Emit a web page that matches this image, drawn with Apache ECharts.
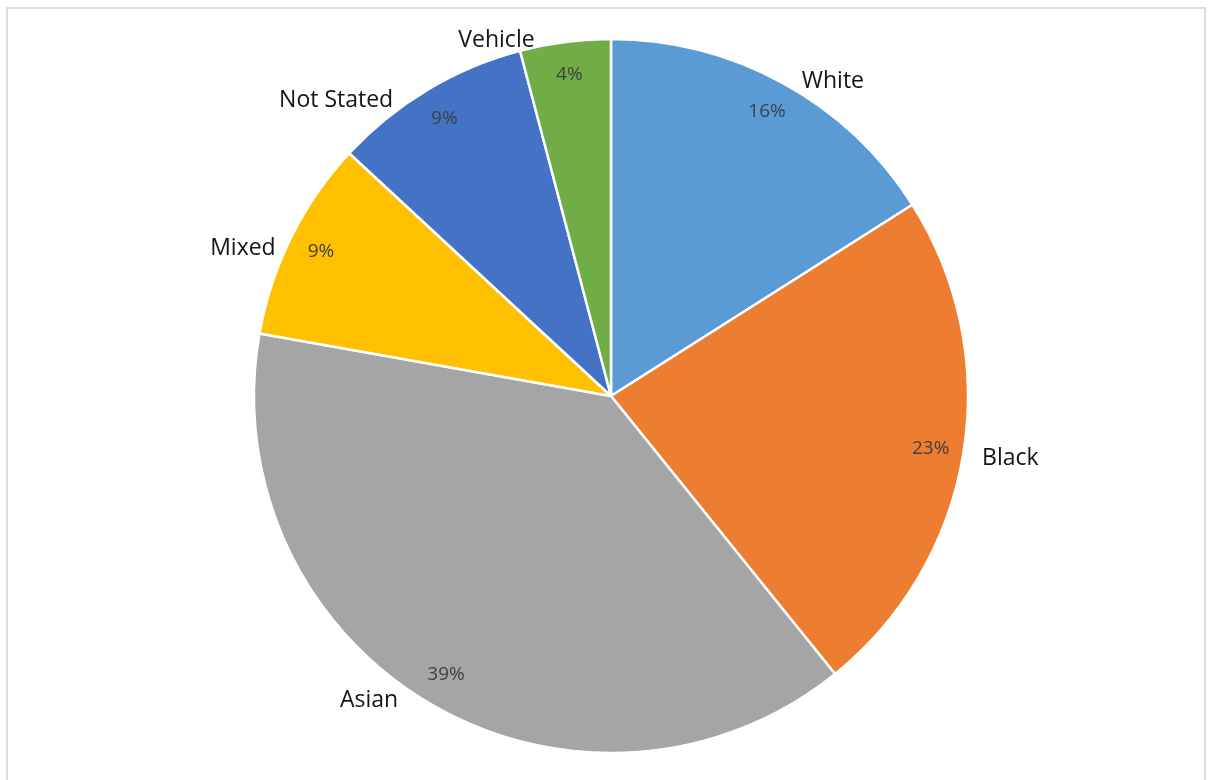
<!DOCTYPE html>
<html>
<head>
<meta charset="utf-8">
<script src="https://cdn.jsdelivr.net/npm/echarts@6/dist/echarts.min.js"></script>
<style>
  html, body { margin: 0; padding: 0; background: #ffffff; }
  #frame {
    position: absolute; left: 6px; top: 7px; width: 1200px; height: 780px;
    border: 2px solid #dcdcdc; box-sizing: border-box; background: #ffffff;
  }
  #chart { position: absolute; left: 0; top: 0; width: 1209px; height: 780px; }
</style>
</head>
<body>
<div id="frame"></div>
<div id="chart"></div>
<script>
// Share of records by ethnicity (percent)
const categories = ['White', 'Black', 'Asian', 'Mixed', 'Not Stated', 'Vehicle'];
const shares = [16.0, 23.2, 38.6, 9.1, 9.0, 4.1];
const colors = ['#5B9BD5', '#ED7D31', '#A5A5A5', '#FFC000', '#4472C4', '#70AD47'];

// small nudges for the outer name labels, keyed by category
const nameNudge = {
  'White': [8, 9],
  'Black': [2, 2],
  'Asian': [-20, -13],
  'Mixed': [0, 17],
  'Not Stated': [-23, 21],
  'Vehicle': [-24, 10]
};

const chart = echarts.init(document.getElementById('chart'), null, { renderer: 'canvas' });

const R = 357;
const center = ['611px', '396px'];

const slices = categories.map((name, i) => ({
  name,
  value: shares[i],
  itemStyle: { color: colors[i] },
  label: { offset: nameNudge[name] || [0, 0] }
}));

chart.setOption({
  animation: false,
  backgroundColor: 'transparent',
  series: [
    {
      // coloured slices with category names outside
      type: 'pie',
      center: center,
      radius: [0, R],
      startAngle: 90,
      clockwise: true,
      avoidLabelOverlap: false,
      itemStyle: { borderColor: '#ffffff', borderWidth: 2.5 },
      label: {
        show: true,
        position: 'outside',
        formatter: '{b}',
        fontFamily: 'Open Sans',
        fontSize: 23,
        color: '#141414'
      },
      labelLine: { show: false, length: 12, length2: 0 },
      emphasis: { disabled: true },
      data: slices
    },
    {
      // percentage labels near the rim of each slice
      type: 'pie',
      center: center,
      radius: [285, R],
      startAngle: 90,
      clockwise: true,
      silent: true,
      itemStyle: { color: 'transparent', borderWidth: 0 },
      label: {
        show: true,
        position: 'inside',
        formatter: p => Math.round(p.value) + '%',
        fontFamily: 'Open Sans',
        fontSize: 19,
        color: '#404040'
      },
      labelLine: { show: false },
      emphasis: { disabled: true },
      data: categories.map((name, i) => ({ name, value: shares[i] }))
    }
  ]
});
</script>
</body>
</html>
